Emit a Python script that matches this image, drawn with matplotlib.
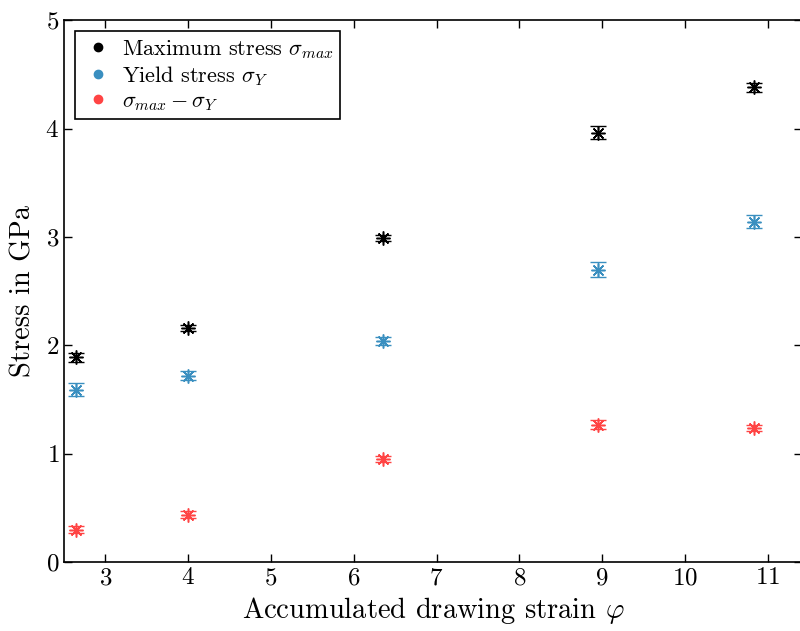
import matplotlib.pyplot as plt
from matplotlib.lines import Line2D

plt.rcParams['font.family'] = 'cmr10'
plt.rcParams['mathtext.fontset'] = 'cm'
plt.rcParams['axes.formatter.use_mathtext'] = True

# strain values
strain = [2.65, 4.0, 6.35, 8.95, 10.83]

# stresses in GPa and their errors
sigma_max = [1.89, 2.16, 2.99, 3.96, 4.38]
sigma_max_err = [0.04, 0.03, 0.03, 0.06, 0.04]
sigma_y = [1.59, 1.72, 2.04, 2.70, 3.14]
sigma_y_err = [0.06, 0.04, 0.04, 0.07, 0.06]
sigma_diff = [0.30, 0.44, 0.95, 1.27, 1.24]
sigma_diff_err = [0.03, 0.03, 0.03, 0.04, 0.03]

series = [
    (sigma_max, sigma_max_err, 'black', r'Maximum stress $\sigma_{max}$'),
    (sigma_y, sigma_y_err, '#3a8fc0', r'Yield stress $\sigma_Y$'),
    (sigma_diff, sigma_diff_err, '#ff4444', r'$\sigma_{max} - \sigma_Y$'),
]

fig = plt.figure(figsize=(8, 6.31), dpi=100)
ax = fig.add_axes([0.08, 0.109, 0.922, 0.859])

handles = []
for vals, err, col, lab in series:
    ax.errorbar(strain, vals, yerr=err, fmt='none', ecolor=col, elinewidth=1.0,
                capsize=6, capthick=1.0)
    ax.plot(strain, vals, linestyle='none', marker=(8, 2, 0), markersize=10,
            color=col, markeredgewidth=1.1)
    handles.append(Line2D([], [], linestyle='none', marker='o', markersize=6,
                          color=col, label=lab))

ax.set_xlim(2.5, 11.41)
ax.set_ylim(0, 5)
ax.set_xticks([3, 4, 5, 6, 7, 8, 9, 10, 11])
ax.set_yticks([0, 1, 2, 3, 4, 5])
ax.tick_params(direction='in', top=True, right=True, labelsize=18, length=6, width=1)
for s in ax.spines.values():
    s.set_linewidth(1.2)
# right edge of the frame is cut off in the original
ax.spines['right'].set_visible(False)

ax.set_xlabel(r'Accumulated drawing strain $\varphi$', fontsize=20.5, labelpad=4)
ax.set_ylabel('Stress in GPa', fontsize=20.5, labelpad=6)

leg = ax.legend(handles=handles, loc='upper left', fontsize=16, fancybox=False,
                edgecolor='black', framealpha=1, handletextpad=0.3,
                borderaxespad=0.5, labelspacing=0.15, handlelength=1.5,
                borderpad=0.3)
leg.get_frame().set_linewidth(1.2)

fig.savefig('out.png', dpi=100)
